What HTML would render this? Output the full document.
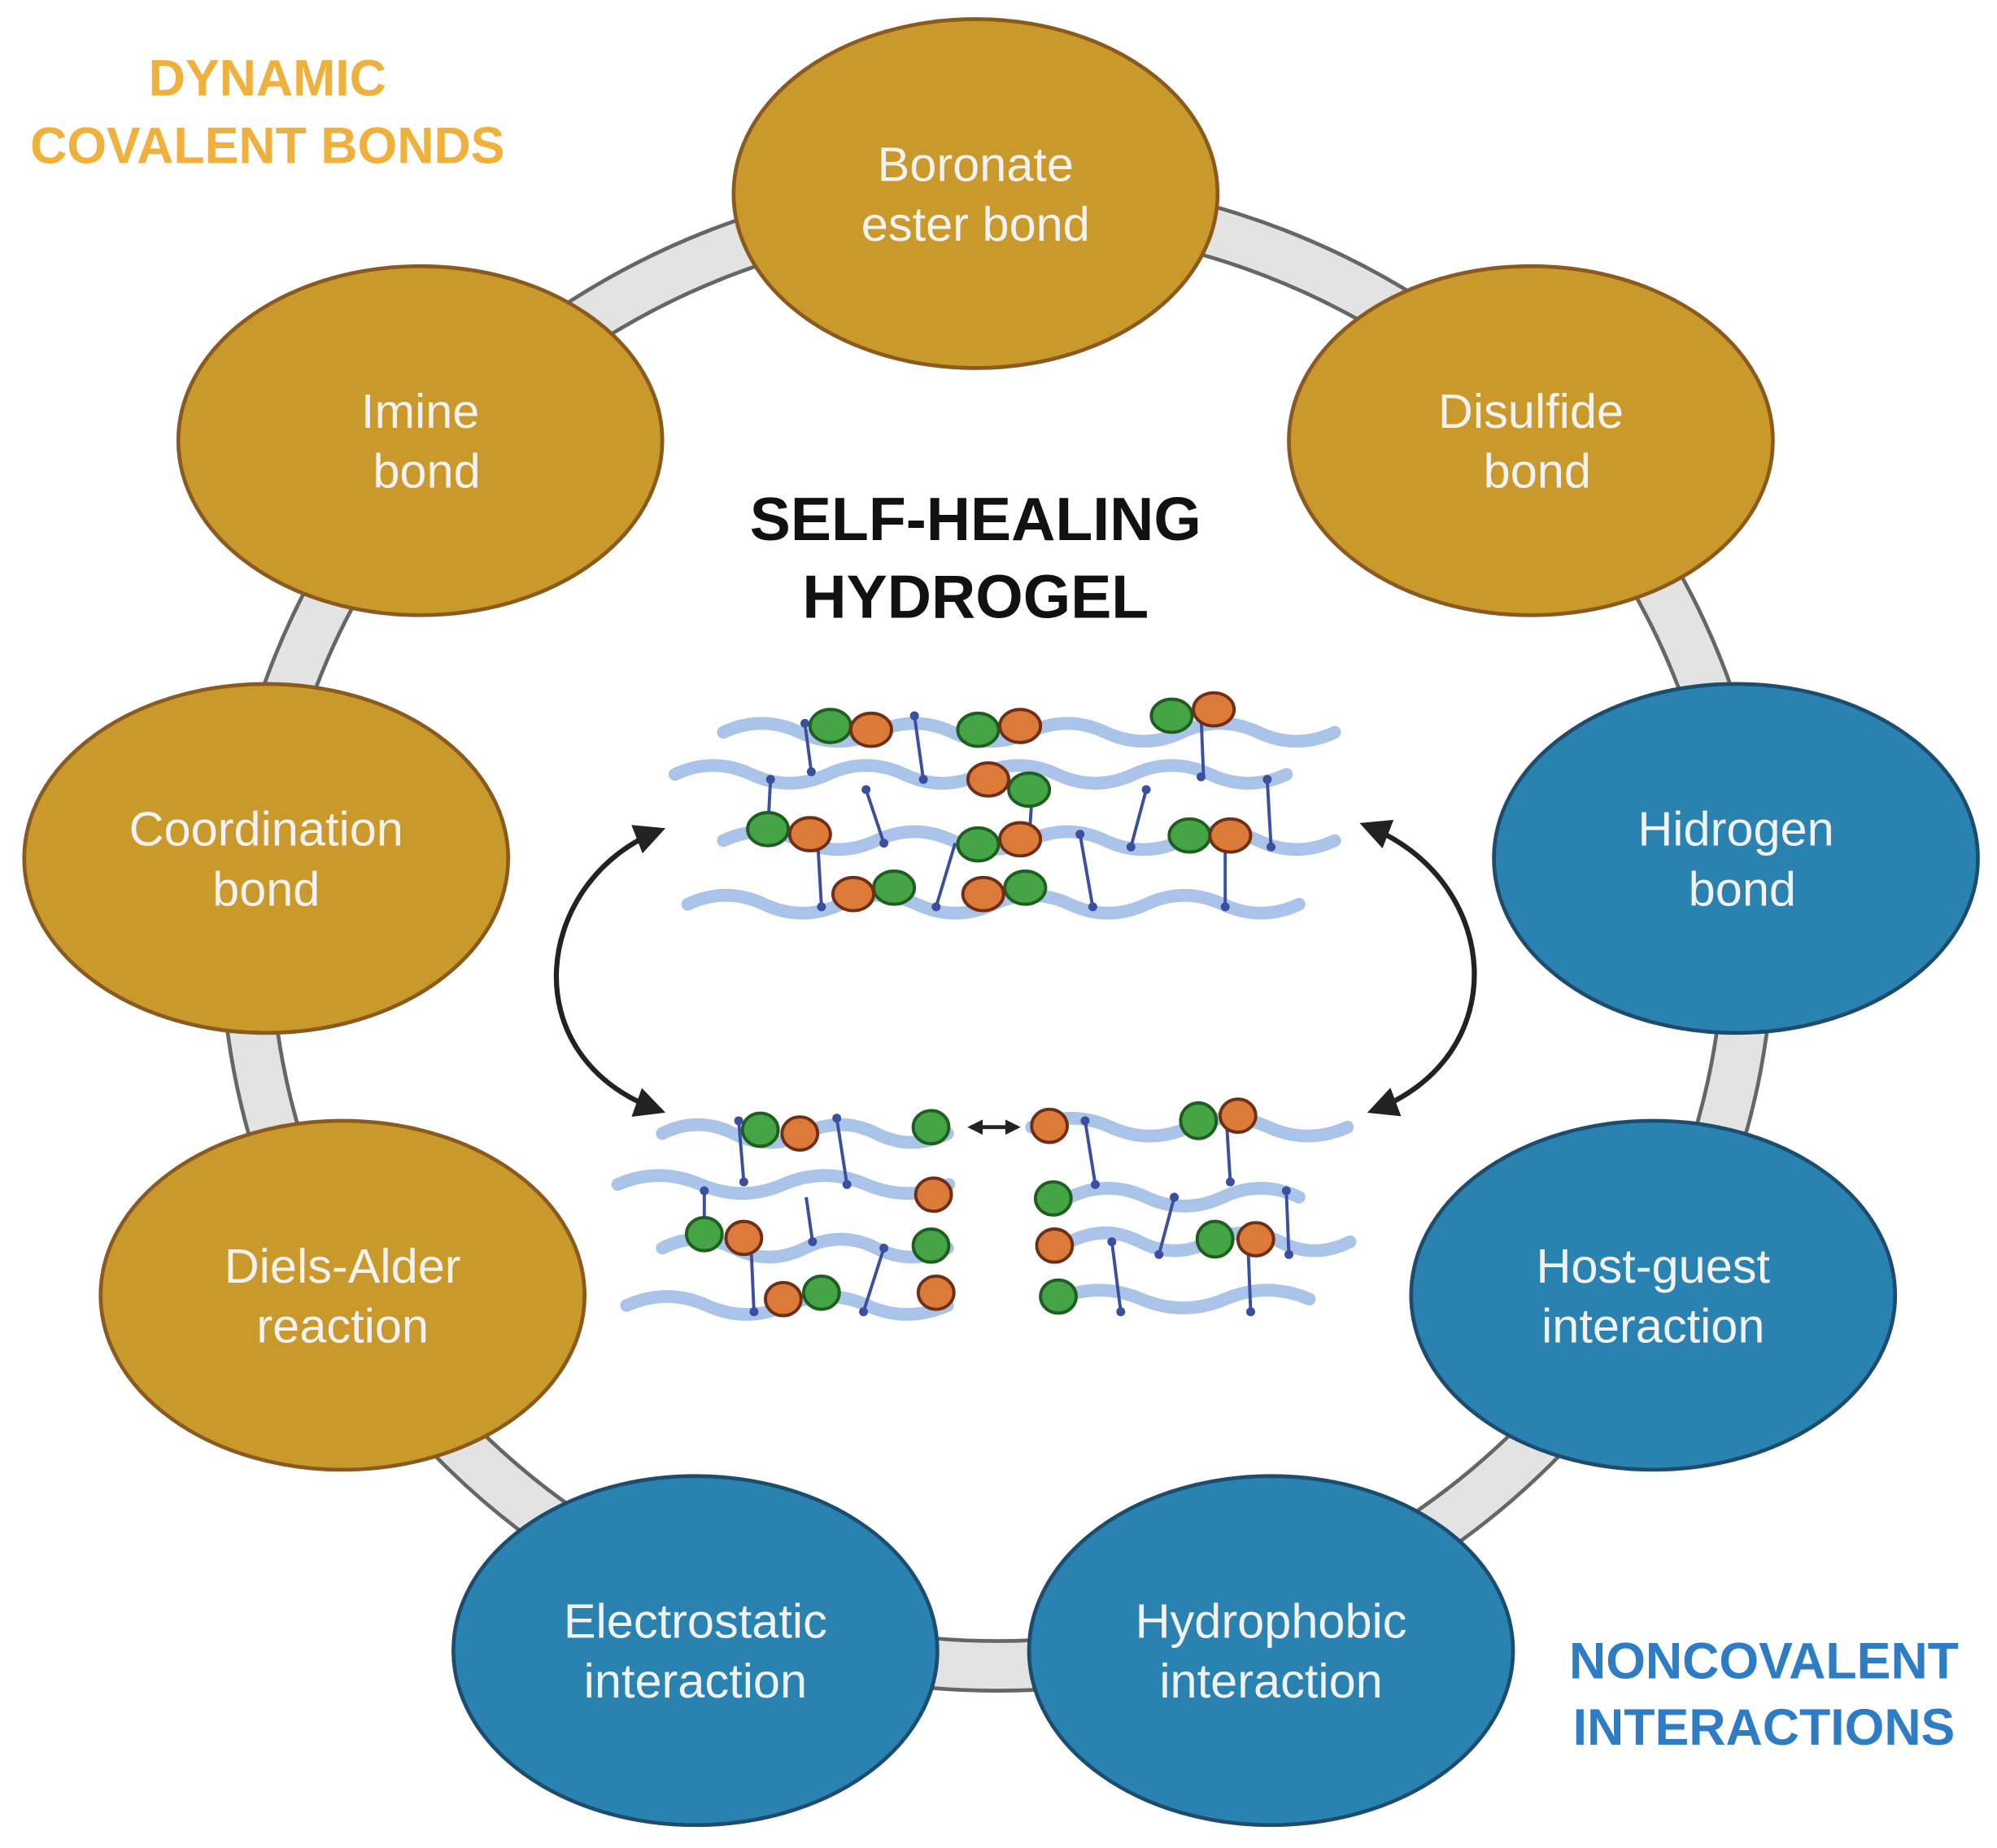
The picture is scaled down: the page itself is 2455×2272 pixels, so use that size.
<!DOCTYPE html>
<html><head><meta charset="utf-8"><style>html,body{margin:0;padding:0;background:#fff}svg{display:block}</style></head>
<body>
<svg width="2455" height="2272" viewBox="0 0 1568 1451" preserveAspectRatio="none" xmlns="http://www.w3.org/2000/svg">
<defs>
<marker id="ah" viewBox="0 0 10 10" refX="8" refY="5" markerWidth="6" markerHeight="6" orient="auto-start-reverse"><path d="M0,0 L10,5 L0,10 z" fill="#222"/></marker>
<marker id="ah2" viewBox="0 0 10 10" refX="8" refY="5" markerWidth="4" markerHeight="4" orient="auto-start-reverse"><path d="M0,0 L10,5 L0,10 z" fill="#222"/></marker>
</defs>
<ellipse cx="783" cy="733" rx="590" ry="575" fill="none" stroke="#666" stroke-width="42"/>
<ellipse cx="783" cy="733" rx="590" ry="575" fill="none" stroke="#e3e3e3" stroke-width="36"/>
<g stroke-width="3" font-family="Liberation Sans, sans-serif" font-size="38" fill="#fff" text-anchor="middle">
<g fill="#C99A2B" stroke="#8a5a1e">
<ellipse cx="766" cy="152" rx="190" ry="137"/>
<ellipse cx="1202" cy="346" rx="190" ry="137"/>
<ellipse cx="330" cy="346" rx="190" ry="137"/>
<ellipse cx="209" cy="674" rx="190" ry="137"/>
<ellipse cx="269" cy="1017" rx="190" ry="137"/>
</g>
<g fill="#2A82B0" stroke="#1d4d6e">
<ellipse cx="1363" cy="674" rx="190" ry="137"/>
<ellipse cx="1298" cy="1017" rx="190" ry="137"/>
<ellipse cx="546" cy="1296" rx="190" ry="137"/>
<ellipse cx="998" cy="1296" rx="190" ry="137"/>
</g>
<g stroke="none" fill="#f2f2f2">
<text x="766" y="142">Boronate</text><text x="766" y="189">ester bond</text>
<text x="1202" y="336">Disulfide</text><text x="1207" y="383">bond</text>
<text x="330" y="336">Imine</text><text x="335" y="383">bond</text>
<text x="209" y="664">Coordination</text><text x="209" y="711">bond</text>
<text x="269" y="1007">Diels-Alder</text><text x="269" y="1054">reaction</text>
<text x="1363" y="664">Hidrogen</text><text x="1368" y="711">bond</text>
<text x="1298" y="1007">Host-guest</text><text x="1298" y="1054">interaction</text>
<text x="546" y="1286">Electrostatic</text><text x="546" y="1333">interaction</text>
<text x="998" y="1286">Hydrophobic</text><text x="998" y="1333">interaction</text>
</g>
</g>
<g font-family="Liberation Sans, sans-serif" font-weight="bold" text-anchor="middle">
<text x="210" y="75" font-size="40" fill="#F0B03C">DYNAMIC</text>
<text x="210" y="128" font-size="40" fill="#F0B03C">COVALENT BONDS</text>
<text x="1385" y="1318" font-size="40" fill="#2E7CC4">NONCOVALENT</text>
<text x="1385" y="1370" font-size="40" fill="#2E7CC4">INTERACTIONS</text>
<text x="766" y="424" font-size="48" fill="#111">SELF-HEALING</text>
<text x="766" y="485" font-size="48" fill="#111">HYDROGEL</text>
</g>
<g fill="none" stroke="#a9c4e8" stroke-width="10" stroke-linecap="round">
<path d="M568 575 q30 -14 60 0 t60 0 t60 0 t60 0 t60 0 t60 0 t60 0 t60 0"/>
<path d="M530 608 q30 -14 60 0 t60 0 t60 0 t60 0 t60 0 t60 0 t60 0 t60 0"/>
<path d="M568 660 q30 -14 60 0 t60 0 t60 0 t60 0 t60 0 t60 0 t60 0 t60 0"/>
<path d="M540 710 q30 -14 60 0 t60 0 t60 0 t60 0 t60 0 t60 0 t60 0 t60 0"/>
<path d="M520 890 q28 -14 56 0 t56 0 t56 0 t56 0"/>
<path d="M485 930 q32 -14 65 0 t65 0 t65 0 t65 0"/>
<path d="M520 980 q28 -14 56 0 t56 0 t56 0 t56 0"/>
<path d="M492 1025 q32 -14 63 0 t63 0 t63 0 t63 0"/>
<path d="M810 885 q31 -14 62 0 t62 0 t62 0 t62 0"/>
<path d="M840 940 q30 -14 60 0 t60 0 t60 0"/>
<path d="M840 975 q28 -14 55 0 t55 0 t55 0 t55 0"/>
<path d="M830 1020 q33 -14 66 0 t66 0 t66 0"/>
</g>
<g stroke="#3b4fa0" stroke-width="2.5" fill="#3b4fa0">
<line x1="632" y1="568" x2="637" y2="606"/><line x1="718" y1="562" x2="725" y2="612"/><line x1="943" y1="560" x2="945" y2="610"/>
<line x1="605" y1="612" x2="603" y2="650"/><line x1="680" y1="620" x2="694" y2="662"/><line x1="900" y1="620" x2="888" y2="665"/><line x1="995" y1="612" x2="998" y2="665"/>
<line x1="642" y1="660" x2="645" y2="712"/><line x1="750" y1="662" x2="735" y2="712"/><line x1="848" y1="655" x2="858" y2="712"/><line x1="962" y1="665" x2="962" y2="712"/><line x1="810" y1="630" x2="808" y2="660"/>
<line x1="580" y1="880" x2="584" y2="928"/><line x1="657" y1="878" x2="665" y2="930"/><line x1="553" y1="935" x2="553" y2="965"/><line x1="633" y1="940" x2="638" y2="975"/>
<line x1="590" y1="985" x2="592" y2="1030"/><line x1="694" y1="980" x2="678" y2="1030"/>
<line x1="852" y1="880" x2="860" y2="930"/><line x1="963" y1="880" x2="966" y2="928"/><line x1="922" y1="940" x2="910" y2="985"/><line x1="1010" y1="935" x2="1012" y2="985"/>
<line x1="873" y1="975" x2="880" y2="1030"/><line x1="980" y1="980" x2="982" y2="1030"/>
<g stroke="none">
<circle cx="632" cy="568" r="3.5"/><circle cx="637" cy="606" r="3.5"/><circle cx="718" cy="562" r="3.5"/><circle cx="725" cy="612" r="3.5"/><circle cx="943" cy="610" r="3.5"/><circle cx="605" cy="612" r="3.5"/><circle cx="680" cy="620" r="3.5"/><circle cx="694" cy="662" r="3.5"/><circle cx="900" cy="620" r="3.5"/><circle cx="888" cy="665" r="3.5"/><circle cx="995" cy="612" r="3.5"/><circle cx="998" cy="665" r="3.5"/><circle cx="645" cy="712" r="3.5"/><circle cx="735" cy="712" r="3.5"/><circle cx="848" cy="655" r="3.5"/><circle cx="858" cy="712" r="3.5"/><circle cx="962" cy="712" r="3.5"/>
<circle cx="580" cy="880" r="3.5"/><circle cx="584" cy="928" r="3.5"/><circle cx="657" cy="878" r="3.5"/><circle cx="665" cy="930" r="3.5"/><circle cx="553" cy="935" r="3.5"/><circle cx="638" cy="975" r="3.5"/><circle cx="592" cy="1030" r="3.5"/><circle cx="678" cy="1030" r="3.5"/><circle cx="694" cy="980" r="3.5"/>
<circle cx="852" cy="880" r="3.5"/><circle cx="860" cy="930" r="3.5"/><circle cx="966" cy="928" r="3.5"/><circle cx="922" cy="940" r="3.5"/><circle cx="910" cy="985" r="3.5"/><circle cx="1010" cy="935" r="3.5"/><circle cx="1012" cy="985" r="3.5"/><circle cx="873" cy="975" r="3.5"/><circle cx="880" cy="1030" r="3.5"/><circle cx="982" cy="1030" r="3.5"/>
</g>
</g>
<g stroke-width="2.5">
<g fill="#44a446" stroke="#1e5e1e">
<ellipse cx="652" cy="570" rx="16" ry="13"/><ellipse cx="768" cy="573" rx="16" ry="13"/><ellipse cx="920" cy="562" rx="16" ry="13"/><ellipse cx="808" cy="620" rx="16" ry="13"/><ellipse cx="603" cy="651" rx="16" ry="13"/><ellipse cx="768" cy="663" rx="16" ry="13"/><ellipse cx="934" cy="656" rx="16" ry="13"/><ellipse cx="702" cy="697" rx="16" ry="13"/><ellipse cx="805" cy="697" rx="16" ry="13"/>
<ellipse cx="597" cy="887" rx="14" ry="13"/><ellipse cx="731" cy="885" rx="14" ry="13"/><ellipse cx="941" cy="880" rx="14" ry="14"/><ellipse cx="827" cy="941" rx="14" ry="13"/><ellipse cx="553" cy="969" rx="14" ry="13"/><ellipse cx="731" cy="978" rx="14" ry="13"/><ellipse cx="954" cy="973" rx="14" ry="14"/><ellipse cx="645" cy="1015" rx="14" ry="13"/><ellipse cx="831" cy="1018" rx="14" ry="13"/>
</g>
<g fill="#dc7a3a" stroke="#6e2f16">
<ellipse cx="684" cy="573" rx="16" ry="13"/><ellipse cx="801" cy="570" rx="16" ry="13"/><ellipse cx="953" cy="557" rx="16" ry="13"/><ellipse cx="776" cy="612" rx="16" ry="13"/><ellipse cx="636" cy="655" rx="16" ry="13"/><ellipse cx="801" cy="659" rx="16" ry="13"/><ellipse cx="966" cy="656" rx="16" ry="13"/><ellipse cx="670" cy="702" rx="16" ry="13"/><ellipse cx="772" cy="702" rx="16" ry="13"/>
<ellipse cx="628" cy="890" rx="14" ry="13"/><ellipse cx="824" cy="884" rx="14" ry="13"/><ellipse cx="972" cy="876" rx="14" ry="13"/><ellipse cx="733" cy="938" rx="14" ry="13"/><ellipse cx="584" cy="972" rx="14" ry="13"/><ellipse cx="828" cy="978" rx="14" ry="13"/><ellipse cx="986" cy="973" rx="14" ry="13"/><ellipse cx="615" cy="1020" rx="14" ry="13"/><ellipse cx="735" cy="1015" rx="14" ry="13"/>
</g>
</g>
<g fill="none" stroke="#222" stroke-width="4">
<path d="M518 652 C420 690 400 830 518 872" marker-start="url(#ah)" marker-end="url(#ah)"/>
<path d="M1072 648 C1180 690 1190 830 1078 872" marker-start="url(#ah)" marker-end="url(#ah)"/>
<line x1="762" y1="885" x2="799" y2="885" stroke-width="3" marker-start="url(#ah2)" marker-end="url(#ah2)"/>
</g>
</svg>
</body></html>
